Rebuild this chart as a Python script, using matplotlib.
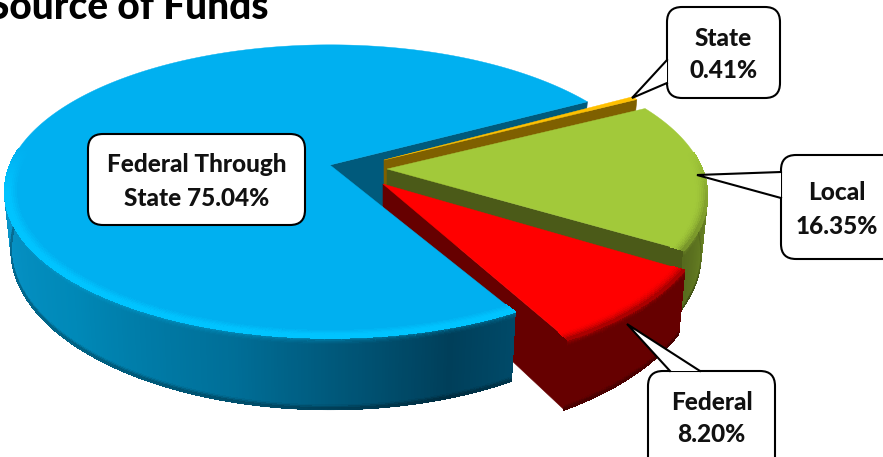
import numpy as np
import matplotlib
matplotlib.use("Agg")
import matplotlib.pyplot as plt
from matplotlib.collections import LineCollection, PolyCollection
from matplotlib.colors import to_rgb
from matplotlib.patches import FancyBboxPatch, Polygon

# --- Data ---
sources = ["State", "Local", "Federal", "Federal Through State"]
shares = [0.41, 16.35, 8.20, 75.04]
label_lines = [["State", "0.41%"], ["Local", "16.35%"], ["Federal", "8.20%"],
               ["Federal Through", "State 75.04%"]]
start_angle = 29.0   # slices run clockwise from here

# --- Slice styling ---
apex = {"State": (384, 160), "Local": (387, 169), "Federal": (383, 184),
        "Federal Through State": (330, 165)}
stretch = {"State": (0.965, 1.0), "Local": (0.985, 1.0), "Federal": (1.0, 1.06),
           "Federal Through State": (1.0, 1.0)}
top_col = {"State": "#FFC000", "Local": "#A2C93A", "Federal": "#FF0000",
           "Federal Through State": "#00B0F0"}
glow_col = {"State": "#FFC000", "Local": "#A2C93A", "Federal": "#FF0000",
            "Federal Through State": "#00C4FF"}
cut_col = {"State": "#7F6000", "Local": "#4B5A18", "Federal": "#660000",
           "Federal Through State": "#005A7C"}
# rim colour along the angle: (degrees, colour)
rim_stops = {
    "State": [(-30, "#7F6000"), (30, "#7F6000")],
    "Local": [(-32, "#55691D"), (-10, "#6F8A26"), (30, "#7F9E2C")],
    "Federal": [(-62, "#660000"), (-29, "#660000")],
    "Federal Through State": [(-180, "#0A96CC"), (-135, "#0089B8"), (-105, "#006F98"),
                              (-72, "#003F5A"), (-59, "#004C6B")],
}

# projection of the pie plane
A, B, K = 320.0, 141.8, 0.18
BASE_X, BASE_Y, BASE_DROP = 0.98, 1.09, 56.0


def project(name, u, v, base=False):
    cx, cy = apex[name]
    sx, sy = stretch[name]
    w = 1 + K * v
    if base:
        return cx + BASE_X * A * sx * u / w, cy + BASE_DROP - BASE_Y * B * sy * v / w
    return cx + A * sx * u / w, cy - B * sy * v / w


def mix(a, b, t):
    a, b = np.array(to_rgb(a)), np.array(to_rgb(b))
    return a + (b - a) * t


def rim_colour(name, deg):
    d = (deg + 180) % 360 - 180
    stops = rim_stops[name]
    xs = [s[0] for s in stops]
    rgb = np.array([to_rgb(s[1]) for s in stops])
    return np.array([np.interp(d, xs, rgb[:, i]) for i in range(3)])


def draw_cut(ax, name, deg, z):
    # flat wall along the clockwise edge of a slice
    u, v = np.cos(np.radians(deg)), np.sin(np.radians(deg))
    pts = [project(name, 0, 0), project(name, u, v),
           project(name, u, v, base=True), project(name, 0, 0, base=True)]
    ax.add_patch(Polygon(pts, closed=True, fc=cut_col[name], ec=cut_col[name], lw=0.4, zorder=z))


def draw_rim(ax, name, d0, d1, z):
    degs = np.linspace(d0, d1, max(int(abs(d1 - d0) * 2), 3))
    polys, cols, edge, edge_cols = [], [], [], []
    glow = glow_col[name]
    for a0, a1 in zip(degs[:-1], degs[1:]):
        mid = np.radians((a0 + a1) / 2)
        if np.sin(mid) > 0.05:
            continue
        c = rim_colour(name, (a0 + a1) / 2)
        # wall layers: soft upper edge, dark lower edge
        layers = [(0.0, 0.05, mix(glow, c, 0.45), mix(glow, c, 0.85)), (0.05, 0.10, mix(glow, c, 0.85), c),
                  (0.10, 0.94, c, c), (0.94, 1.0, c, c * 0.65)]
        for t0, t1, c0, c1 in layers:
            for j in range(3):
                s0, s1 = t0 + (t1 - t0) * j / 3, t0 + (t1 - t0) * (j + 1) / 3
                quad = []
                for deg, s in [(a0, s0), (a1, s0), (a1, s1), (a0, s1)]:
                    ru, rv = np.cos(np.radians(deg)), np.sin(np.radians(deg))
                    xt, yt = project(name, ru, rv)
                    xb, yb = project(name, ru, rv, base=True)
                    quad.append((xt + (xb - xt) * s, yt + (yb - yt) * s))
                polys.append(quad)
                cols.append(c0 + (c1 - c0) * (j + 0.5) / 3)
        # smooth outline along the bottom of the wall
        edge.append([project(name, np.cos(np.radians(a0)), np.sin(np.radians(a0)), base=True),
                     project(name, np.cos(np.radians(a1)), np.sin(np.radians(a1)), base=True)])
        edge_cols.append(c * 0.75)
    if polys:
        ax.add_collection(PolyCollection(polys, facecolors=cols, edgecolors=cols, linewidths=0.5,
                                         antialiaseds=False, zorder=z))
        ax.add_collection(LineCollection(edge, colors=edge_cols, linewidths=0.8, zorder=z))


def draw_top(ax, name, d0, d1, z):
    degs = np.linspace(d0, d1, max(int(abs(d1 - d0) * 2), 3))
    uu, vv = np.cos(np.radians(degs)), np.sin(np.radians(degs))
    xs, ys = project(name, uu, vv)
    pts = [project(name, 0, 0)] + list(zip(xs, ys))
    ax.add_patch(Polygon(pts, closed=True, fc=top_col[name], ec=top_col[name], lw=0.3, zorder=z))
    # bevel along the front of the rim
    radii = np.linspace(0.96, 1.0, 8)
    polys, cols = [], []
    for a0, a1 in zip(degs[:-1], degs[1:]):
        mid = np.radians((a0 + a1) / 2)
        f = np.clip((0.12 - np.sin(mid)) / 0.3, 0, 1)
        if f <= 0:
            continue
        wall = rim_colour(name, (a0 + a1) / 2)
        for r0, r1 in zip(radii[:-1], radii[1:]):
            t = (r0 - 0.96) / 0.04
            if name == "Federal Through State":
                c = mix(top_col[name], glow_col[name], min(t * 1.6, 1))
            else:
                c = mix(top_col[name], wall, t ** 2 * 0.75)
            c = mix(top_col[name], c, f)
            quad = []
            for deg, r in [(a0, r0), (a1, r0), (a1, r1), (a0, r1)]:
                quad.append(project(name, r * np.cos(np.radians(deg)), r * np.sin(np.radians(deg))))
            polys.append(quad)
            cols.append(c)
    if polys:
        ax.add_collection(PolyCollection(polys, facecolors=cols, edgecolors=cols, linewidths=0.5,
                                         antialiaseds=False, zorder=z))


def callout(ax, box, tip, base, lines, text_y, text_x=None, fs=17.6):
    x0, y0, x1, y1 = box
    ax.add_patch(FancyBboxPatch((x0 + 15, y0 + 15), x1 - x0 - 30, y1 - y0 - 30,
                                boxstyle="round,pad=15,rounding_size=15",
                                fc="white", ec="black", lw=1.5, zorder=20))
    if tip is not None:
        ax.add_patch(Polygon([base[0], tip, base[1]], closed=True, fc="white", ec="none", zorder=21))
        ax.plot([base[0][0], tip[0], base[1][0]], [base[0][1], tip[1], base[1][1]],
                color="black", lw=1.5, zorder=22, solid_joinstyle="miter")
    cx = (x0 + x1) / 2 if text_x is None else text_x
    for line, y in zip(lines, text_y):
        ax.text(cx, y, line, ha="center", va="center", fontsize=fs, fontweight=900,
                family="Lato", color="#111111", zorder=23)


fig = plt.figure(figsize=(8.83, 4.57), dpi=100)
ax = fig.add_axes([0, 0, 1, 1])
ax.set_xlim(0, 883)
ax.set_ylim(457, 0)
ax.axis("off")

# angle ranges, clockwise from the start angle
spans = {}
cur = start_angle
for name, share in zip(sources, shares):
    spans[name] = (cur, cur - share * 3.6)
    cur -= share * 3.6

big = "Federal Through State"
# back wall of the big slice goes under everything else
draw_cut(ax, big, spans[big][1], 1)
z = 2
for name in ["State", "Local", "Federal"]:
    d0, d1 = spans[name]
    draw_cut(ax, name, d1, z)
    draw_rim(ax, name, d0, d1, z + 0.5)
    draw_top(ax, name, d0, d1, z + 1)
    z += 2
draw_rim(ax, big, spans[big][0], spans[big][1], z)
draw_top(ax, big, spans[big][0], spans[big][1], z + 1)

callout(ax, (667, 7, 780, 98), (632, 98), [(667, 60), (667, 83)], label_lines[0], (38, 71))
callout(ax, (781, 155, 900, 259), (697, 175), [(781, 172), (781, 198)], label_lines[1], (193, 226), text_x=837)
callout(ax, (648, 371, 775, 475), (627, 324), [(670, 371), (700, 371)], label_lines[2], (402, 435))
callout(ax, (88, 134, 305, 225), None, None, label_lines[3], (165, 198))

ax.text(269, 19, "Source of Funds", ha="right", va="baseline", fontsize=28, fontweight=900,
        family="Lato", color="black", zorder=30)

fig.savefig("out.png", dpi=100)
